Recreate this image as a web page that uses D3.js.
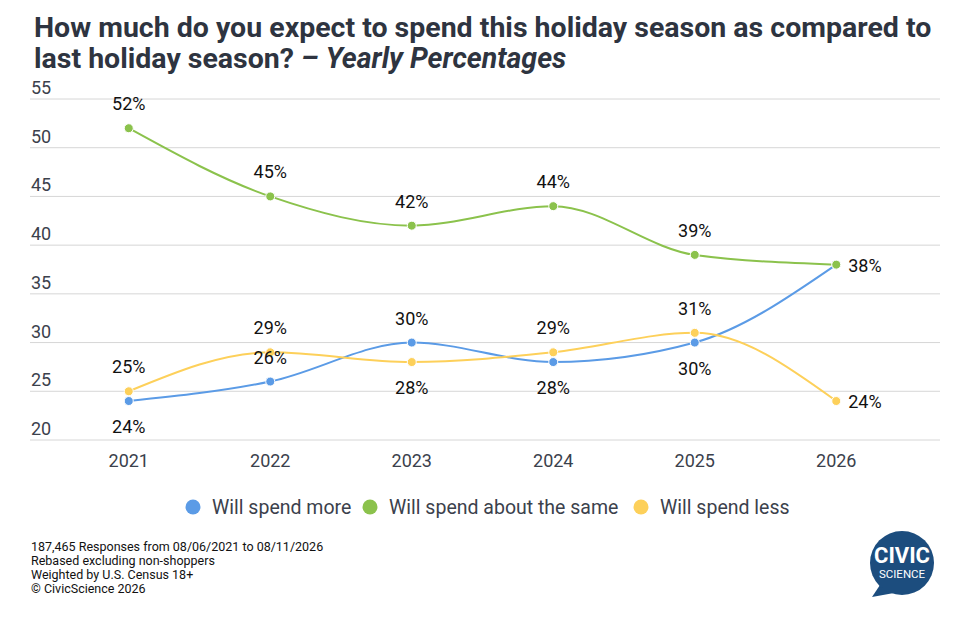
<!DOCTYPE html>
<html>
<head>
<meta charset="utf-8">
<script src="https://cdn.jsdelivr.net/npm/d3@7"></script>
<style>
  body { margin: 0; background: #fff; }
  text { font-family: Roboto, "Noto Sans", sans-serif; }
</style>
</head>
<body>
<div id="main"></div>
<script>
// data
const years = ["2021", "2022", "2023", "2024", "2025", "2026"];
const spendMore = [24, 26, 30, 28, 30, 38];
const spendSame = [52, 45, 42, 44, 39, 38];
const spendLess = [25, 29, 28, 29, 31, 24];
const yTicks = [20, 25, 30, 35, 40, 45, 50, 55];
// label side per point: "a" above, "b" below, "r" right, "n" hidden (overlap)
const morePos = ["b", "a", "a", "b", "b", "n"];
const samePos = ["a", "a", "a", "a", "a", "r"];
const lessPos = ["a", "a", "b", "a", "a", "r"];
const footNotes = [
  "187,465 Responses from 08/06/2021 to 08/11/2026",
  "Rebased excluding non-shoppers",
  "Weighted by U.S. Census 18+",
  "\u00A9 CivicScience 2026"
];

const series = [
  { name: "Will spend more", values: spendMore, pos: morePos, color: "#5b9be6" },
  { name: "Will spend about the same", values: spendSame, pos: samePos, color: "#8bc24c" },
  { name: "Will spend less", values: spendLess, pos: lessPos, color: "#fdd05a" }
];

const W = 966, H = 623;
const svg = d3.select("#main").append("svg")
  .attr("width", W).attr("height", H);

// titulo
const title = svg.append("text")
  .attr("x", 34).attr("y", 37)
  .attr("font-size", "28.5px").attr("font-weight", "bold")
  .attr("fill", "#2e3440");
title.append("tspan").attr("x", 34)
  .text("How much do you expect to spend this holiday season as compared to");
title.append("tspan").attr("x", 34).attr("dy", 31)
  .text("last holiday season? ");
title.append("tspan").attr("font-style", "italic").text("\u2013 Yearly Percentages");

const x = d3.scaleBand().domain(years).range([58, 907]);
const y = d3.scaleLinear().domain([20, 55]).range([440, 99]);
const cx = d => x(d) + x.bandwidth() / 2;

// grid
svg.append("g").selectAll("line").data(yTicks).join("line")
  .attr("x1", 30).attr("x2", 940)
  .attr("y1", d => y(d)).attr("y2", d => y(d))
  .attr("stroke", "#d6d6d6").attr("stroke-width", 1);

svg.append("g").selectAll("text").data(yTicks).join("text")
  .attr("x", 31).attr("y", d => y(d) - 5)
  .attr("font-size", "18px").attr("fill", "#3b414c")
  .text(d => d);

// eixo X
svg.append("g").selectAll("text").data(years).join("text")
  .attr("x", d => cx(d)).attr("y", 467)
  .attr("text-anchor", "middle")
  .attr("font-size", "18px").attr("fill", "#3b414c")
  .text(d => d);

const line = d3.line()
  .x((d, i) => cx(years[i]))
  .y(d => y(d))
  .curve(d3.curveMonotoneX);

const plot = svg.append("g");
series.forEach(s => {
  plot.append("path")
    .attr("d", line(s.values))
    .attr("fill", "none")
    .attr("stroke", s.color)
    .attr("stroke-width", 2);
});
series.forEach(s => {
  plot.append("g").selectAll("circle").data(s.values).join("circle")
    .attr("cx", (d, i) => cx(years[i]))
    .attr("cy", d => y(d))
    .attr("r", 4.5)
    .attr("fill", s.color)
    .attr("stroke", "#fff").attr("stroke-width", 1);
});
series.forEach(s => {
  plot.append("g").selectAll("text")
    .data(s.values.map((v, i) => ({ v, i, p: s.pos[i] })).filter(d => d.p !== "n"))
    .join("text")
    .attr("x", d => d.p === "r" ? cx(years[d.i]) + 12 : cx(years[d.i]))
    .attr("y", d => {
      if (d.p === "a") return y(d.v) - 18;
      if (d.p === "b") return y(d.v) + 32;
      return y(d.v) + 7;
    })
    .attr("text-anchor", d => d.p === "r" ? "start" : "middle")
    .attr("font-size", "18px").attr("fill", "#111")
    .text(d => d.v + "%");
});

// legenda
const legendX = [212, 389, 660];
const legend = svg.append("g");
series.forEach((s, i) => {
  legend.append("circle")
    .attr("cx", legendX[i] - 19).attr("cy", 507).attr("r", 7.5)
    .attr("fill", s.color);
  legend.append("text")
    .attr("x", legendX[i]).attr("y", 514)
    .attr("font-size", "19.5px").attr("fill", "#3b414c")
    .text(s.name);
});

// rodape
svg.append("g").selectAll("text").data(footNotes).join("text")
  .attr("x", 31).attr("y", (d, i) => 551 + i * 14)
  .attr("font-size", "12.5px").attr("fill", "#111")
  .text(d => d);

// logo
const logo = svg.append("g").attr("transform", "translate(902,563)");
logo.append("path")
  .attr("d", "M -22 22 L -30 34 L -8 30 Z")
  .attr("fill", "#1c4d7e");
logo.append("circle").attr("r", 32).attr("fill", "#1c4d7e");
logo.append("text").attr("y", 0).attr("text-anchor", "middle")
  .attr("font-size", "22px").attr("font-weight", "bold").attr("fill", "#fff")
  .text("CIVIC");
logo.append("text").attr("y", 15).attr("text-anchor", "middle")
  .attr("font-size", "11.5px").attr("fill", "#fff")
  .text("SCIENCE");
</script>
</body>
</html>
